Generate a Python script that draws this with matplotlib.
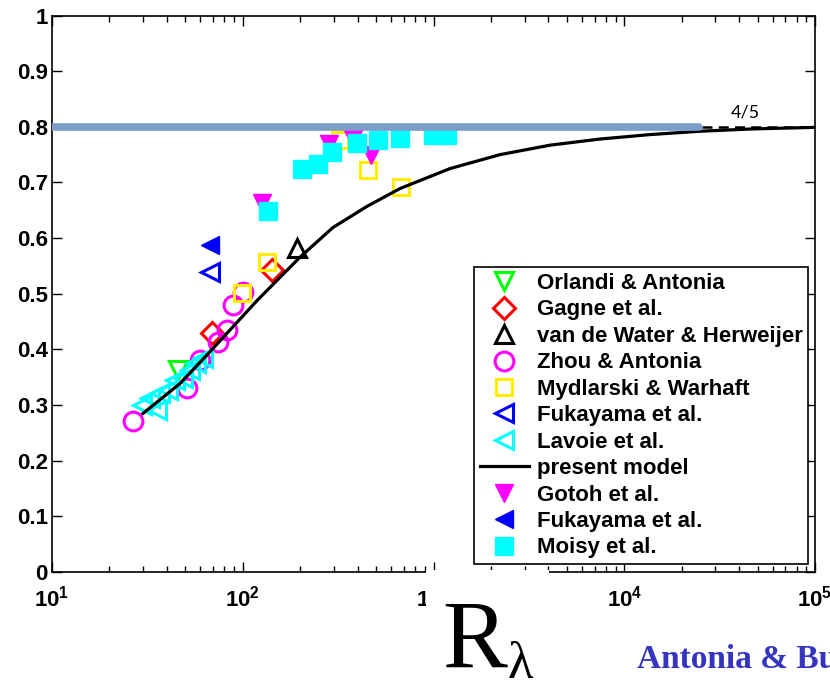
import matplotlib
matplotlib.use("Agg")
import matplotlib.pyplot as plt
from matplotlib.patches import Rectangle
import numpy as np

# Kolmogorov 4/5 check: -<(du)^3>/(eps r) versus R_lambda
orlandi_x = [45.8]
orlandi_y = [0.363]

gagne_x = [69, 142]
gagne_y = [0.429, 0.542]

vdwater_x = [192]
vdwater_y = [0.583]

zhou_x = [26.6, 51, 59.7, 74, 82.6, 89, 100]
zhou_y = [0.271, 0.330, 0.381, 0.413, 0.434, 0.479, 0.503]

mydlarski_x = [99, 134, 324, 454, 676]
mydlarski_y = [0.501, 0.557, 0.776, 0.723, 0.691]

fuka_open_x = [67]
fuka_open_y = [0.539]

lavoie_x = [29.6, 32.7, 35.5, 36.8, 40.5, 44.2, 48.6, 52.9, 56.9, 61.9]
lavoie_y = [0.300, 0.312, 0.291, 0.321, 0.327, 0.345, 0.348, 0.363, 0.375, 0.384]

model_x = [30, 47, 67, 119, 200, 297, 448, 667, 1222, 2233, 4083, 7460, 13640,
           24950, 45600, 100000]
model_y = [0.285, 0.339, 0.395, 0.488, 0.566, 0.619, 0.657, 0.689, 0.725, 0.750,
           0.767, 0.778, 0.786, 0.792, 0.796, 0.799]

gotoh_x = [126, 283, 378, 470]
gotoh_y = [0.663, 0.769, 0.778, 0.749]

fuka_fill_x = [67]
fuka_fill_y = [0.587]

moisy_x = [136, 205, 248, 294, 397, 512, 667, 993, 1178]
moisy_y = [0.648, 0.724, 0.734, 0.754, 0.771, 0.776, 0.779, 0.785, 0.785]

band_x = [10, 24660]
asym_x = [10, 100000]
asym_y = 0.8

yticks = np.round(np.arange(0, 1.01, 0.1), 1)
ytick_labels = ["0"] + ["%.1f" % v for v in yticks[1:-1]] + ["1"]
xticks = [10, 100, 1000, 10000, 100000]
xtick_labels = [r"$\mathbf{10^{%d}}$" % k for k in range(1, 6)]

plt.rcParams["font.family"] = "Liberation Sans"
plt.rcParams["mathtext.fontset"] = "custom"
plt.rcParams["mathtext.bf"] = "Liberation Sans:bold"
plt.rcParams["mathtext.rm"] = "Liberation Sans:bold"

W, H = 830, 685
fig = plt.figure(figsize=(W / 100, H / 100), dpi=100)
ax = fig.add_axes([52 / W, 1 - 572 / H, (815 - 52) / W, (572 - 15.5) / H])

ax.set_xscale("log")
ax.set_xlim(10, 1e5)
ax.set_ylim(0, 1)

mew = 2.2
ax.plot(orlandi_x, orlandi_y, "v", ls="none", ms=13, mfc="none", mec="#00ff00", mew=mew,
        label="Orlandi & Antonia")
ax.plot(gagne_x, gagne_y, "D", ls="none", ms=11, mfc="none", mec="#ff0000", mew=mew,
        label="Gagne et al.")
ax.plot(vdwater_x, vdwater_y, "^", ls="none", ms=13, mfc="none", mec="black", mew=mew,
        label="van de Water & Herweijer")
ax.plot(zhou_x, zhou_y, "o", ls="none", ms=13.5, mfc="none", mec="#ff00ff", mew=mew,
        label="Zhou & Antonia")
ax.plot(mydlarski_x, mydlarski_y, "s", ls="none", ms=12, mfc="none", mec="#ffee00", mew=mew,
        label="Mydlarski & Warhaft")
ax.plot(fuka_open_x, fuka_open_y, "<", ls="none", ms=13, mfc="none", mec="#0000ff", mew=mew,
        label="Fukayama et al.")
ax.plot(lavoie_x, lavoie_y, "<", ls="none", ms=13, mfc="none", mec="#00ffff", mew=mew,
        label="Lavoie et al.")
ax.plot(model_x, model_y, "-", color="black", lw=2.3, label="present model")
ax.plot(gotoh_x, gotoh_y, "v", ls="none", ms=13, mfc="#ff00ff", mec="#ff00ff", mew=1,
        label="Gotoh et al.")
ax.plot(fuka_fill_x, fuka_fill_y, "<", ls="none", ms=13, mfc="#0000ff", mec="#0000ff", mew=1,
        label="Fukayama et al.")
ax.plot(moisy_x, moisy_y, "s", ls="none", ms=13, mfc="#00ffff", mec="#00ffff", mew=1,
        label="Moisy et al.")

# 4/5 asymptote, dashed, with the highlighted band over most of it
ax.plot(asym_x, [asym_y, asym_y], color="black", lw=1.8, dashes=(4, 2.5), zorder=4)
ax.plot(band_x, [asym_y, asym_y], color="#7b9dc8", lw=5.5, solid_capstyle="round", zorder=6)
ax.text(43000, 0.826, "4/5", fontsize=13, family="Lato", ha="center", va="center")

ax.set_yticks(yticks)
ax.set_yticklabels(ytick_labels, fontsize=16, fontweight="bold")
ax.set_xticks(xticks)
ax.set_xticklabels(xtick_labels, fontsize=16)
ax.tick_params(which="both", direction="in", top=True, right=True, width=1)
ax.tick_params(which="major", length=7)
ax.tick_params(which="minor", length=4)
ax.tick_params(axis="y", pad=3)
ax.tick_params(axis="x", pad=10)
for s in ax.spines.values():
    s.set_linewidth(1.2)

leg = ax.legend(loc="lower right", bbox_to_anchor=(0.991, 0.0144),
                prop={"weight": "bold", "size": 16}, frameon=True, fancybox=False,
                edgecolor="black", framealpha=1, borderaxespad=0, borderpad=0.25,
                labelspacing=0.245, handlelength=2.2, handletextpad=0.35, numpoints=1)
leg.get_frame().set_linewidth(1.2)
leg.set_zorder(10)

# white strip under the axis label
fig.add_artist(Rectangle((426 / W, 1 - 640 / H), (549 - 426) / W, (640 - 569.5) / H,
                         transform=fig.transFigure, facecolor="white", edgecolor="none",
                         zorder=5))
fig.text(442 / W, 1 - 668 / H, "R", family="Liberation Serif", fontsize=70,
         ha="left", va="baseline", zorder=6)
fig.text(508 / W, 1 - 678 / H, "λ", family="Liberation Serif", fontsize=38,
         ha="left", va="baseline", zorder=6)
fig.text(637 / W, 1 - 668 / H, "Antonia & Burattini", family="Liberation Serif",
         fontsize=24, fontweight="bold", color="#3535c0", ha="left", va="baseline", zorder=6)

fig.savefig("out.png", dpi=100)
